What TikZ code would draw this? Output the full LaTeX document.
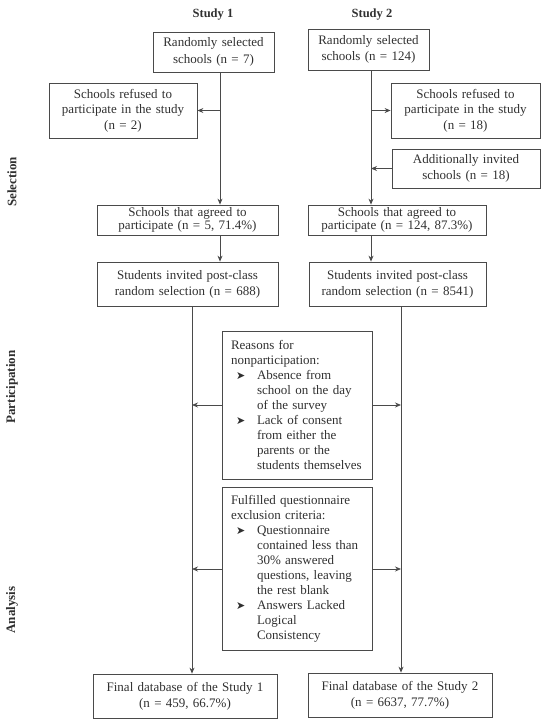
\documentclass[tikz,border=0pt]{standalone}
\usepackage{fontspec}
\setmainfont{Liberation Serif}
\newfontfamily\arrowfont{DejaVu Sans}
\usetikzlibrary{arrows.meta, positioning}
\definecolor{lineC}{HTML}{4A4A4A}
\definecolor{textC}{HTML}{303030}
\newcommand{\itm}{\makebox[26pt][l]{\hspace{5pt}{\arrowfont\fontsize{11}{11}\selectfont ➤}}}
\newcommand{\cont}{\hspace*{26pt}}
\tikzset{
	box/.style={draw=lineC, text=textC, line width=0.8pt, align=center, inner xsep=0pt, inner ysep=0pt, font=\fontsize{13}{15.5}\selectfont},
	listbox/.style={box, align=left, inner xsep=9pt, text width=132pt, font=\fontsize{13}{15}\selectfont},
	head/.style={text=textC, font=\bfseries\fontsize{12.5}{15}\selectfont},
	phase/.style={text=textC, rotate=90, font=\bfseries\fontsize{13}{15}\selectfont},
}

\begin{document}
\begin{tikzpicture}[x=1pt, y=-1pt]
		\useasboundingbox (0,0) rectangle (550,726);

		\node (head1) [head] at (213,15) {Study 1};
		\node (head2) [head] at (372,15) {Study 2};
		\node (sel) [phase] at (12,182) {Selection};
		\node (part) [phase] at (12,387) {Participation};
		\node (anal) [phase] at (12,610) {Analysis};

		\node (rand1) [box, text width=121pt, minimum height=40pt, font=\fontsize{13}{16.5}\selectfont] at (213.5,52) {Randomly selected\\ schools (n = 7)};
		\node (rand2) [box, text width=121pt, minimum height=41pt, font=\fontsize{13}{16.5}\selectfont] at (368.5,49.5) {Randomly selected\\ schools (n = 124)};
		\node (refu1) [box, text width=148pt, minimum height=55pt] at (123,110.5) {Schools refused to\\ participate in the study\\ (n = 2)};
		\node (refu2) [box, text width=149pt, minimum height=55pt] at (465.5,110.5) {Schools refused to\\ participate in the study\\ (n = 18)};
		\node (addi2) [box, text width=148pt, minimum height=39pt] at (466,168.5) {Additionally invited\\ schools (n = 18)};
		\node (agr1) [box, text width=181pt, minimum height=30pt, font=\fontsize{13}{13.5}\selectfont] at (187.5,220) {Schools that agreed to\\ participate (n = 5, 71.4\%)};
		\node (agr2) [box, text width=178pt, minimum height=30pt, font=\fontsize{13}{13.5}\selectfont] at (397,220) {Schools that agreed to\\ participate (n = 124, 87.3\%)};
		\node (stud1) [box, text width=181pt, minimum height=44pt, font=\fontsize{13}{16}\selectfont] at (187.5,284) {Students invited post-class\\ random selection (n = 688)};
		\node (stud2) [box, text width=177pt, minimum height=44pt, font=\fontsize{13}{16}\selectfont] at (397.5,284) {Students invited post-class\\ random selection (n = 8541)};

		\node (reas) [listbox, minimum height=148pt] at (297,405) {Reasons for\\ nonparticipation:\\ \itm Absence from\\ \cont school on the day\\ \cont of the survey\\ \itm Lack of consent\\ \cont from either the\\ \cont parents or the\\ \cont students themselves};
		\node (crit) [listbox, minimum height=163pt] at (297,569) {Fulfilled questionnaire\\ exclusion criteria:\\ \itm Questionnaire\\ \cont contained less than\\ \cont 30\% answered\\ \cont questions, leaving\\ \cont the rest blank\\ \itm Answers Lacked\\ \cont Logical\\ \cont Consistency};

		\node (fin1) [box, text width=184pt, minimum height=44pt, font=\fontsize{13}{16}\selectfont] at (185,696) {Final database of the Study 1\\ (n = 459, 66.7\%)};
		\node (fin2) [box, text width=184pt, minimum height=44pt, font=\fontsize{13}{16}\selectfont] at (400,695) {Final database of the Study 2\\ (n = 6637, 77.7\%)};

		\coordinate (top1) at (220,0);
		\coordinate (top2) at (371,0);
		\coordinate (low1) at (192,0);
		\coordinate (low2) at (401,0);

		\path [-{Stealth[length=6pt, width=5pt]}, color=lineC, line width=0.8pt]
		(rand1.south -| top1) edge (agr1.north -| top1)
		(refu1.east -| top1) edge (refu1.east)
		(agr1.south -| top1) edge (stud1.north -| top1)
		(rand2.south -| top2) edge (agr2.north -| top2)
		(refu2.west -| top2) edge (refu2.west)
		(addi2.west) edge (addi2.west -| top2)
		(agr2.south -| top2) edge (stud2.north -| top2)
		(stud1.south -| low1) edge (fin1.north -| low1)
		(stud2.south -| low2) edge (fin2.north -| low2)
		(reas.west) edge (reas.west -| low1)
		(reas.east) edge (reas.east -| low2)
		(crit.west) edge (crit.west -| low1)
		(crit.east) edge (crit.east -| low2)
		;
	\end{tikzpicture}
\end{document}
